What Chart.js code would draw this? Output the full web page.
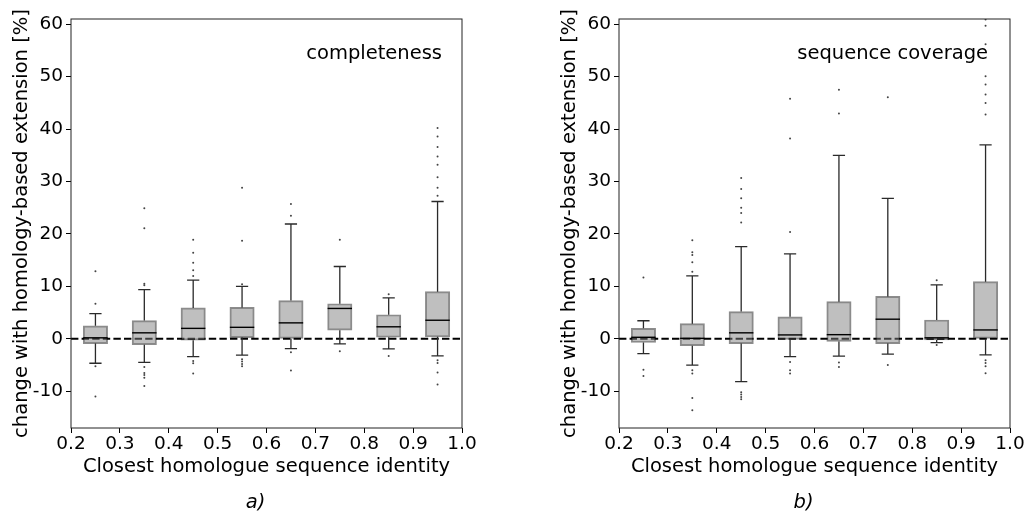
<!DOCTYPE html>
<html>
<head>
<meta charset="utf-8">
<script src="https://cdn.jsdelivr.net/npm/chart.js@4.4.1/dist/chart.umd.min.js"></script>
<style>
  html, body { margin: 0; padding: 0; background: #fff; }
  #wrap { position: relative; width: 1027px; height: 515px; }
  .panel { position: absolute; top: 0; height: 515px; }
</style>
</head>
<body>
<div id="wrap">
  <div class="panel" style="left:0;width:513px"><canvas id="chartA" width="513" height="515"></canvas></div>
  <div class="panel" style="left:548px;width:479px"><canvas id="chartB" width="479" height="515"></canvas></div>
</div>
<script>
/* -------- Data -------- */
const identity = [0.25, 0.35, 0.45, 0.55, 0.65, 0.75, 0.85, 0.95];
const xTicks = [0.2, 0.3, 0.4, 0.5, 0.6, 0.7, 0.8, 0.9, 1.0];
const yTicks = [-10, 0, 10, 20, 30, 40, 50, 60];

// a) completeness
const compQ1  = [-0.9, -1.1, -0.25, 0.25, 0.0, 1.65, 0.3, 0.4];
const compMed = [0.2, 1.15, 2.0, 2.2, 3.05, 5.8, 2.3, 3.55];
const compQ3  = [2.5, 3.5, 5.9, 6.0, 7.3, 6.7, 4.6, 9.0];
const compLo  = [-4.65, -4.5, -3.4, -3.1, -1.85, -0.95, -1.9, -3.25];
const compHi  = [4.8, 9.4, 11.2, 10.0, 21.9, 13.8, 7.8, 26.2];
const compOut = [
    [12.9, 6.7, -5.2, -11.0],
    [24.9, 21.1, 10.5, 10.2, -5.35, -6.5, -6.9, -7.4, -9.0],
    [18.9, 16.4, 14.5, 13.1, 12.0, -4.2, -4.65, -6.6],
    [28.8, 18.7, 10.4, -3.9, -4.3, -4.8, -5.2],
    [25.7, 23.5, -2.55, -6.05],
    [18.9, -2.35],
    [8.5, -3.25],
    [40.2, 38.6, 36.6, 34.8, 33.2, 30.8, 28.8, 27.3, -4.1, -4.6, -6.4, -8.7]
];

// b) sequence coverage
const covQ1  = [-0.7, -1.3, -0.9, -0.1, -0.5, -0.9, -0.2, 0.0];
const covMed = [0.3, 0.1, 1.15, 0.75, 0.8, 3.75, 0.2, 1.7];
const covQ3  = [2.0, 2.9, 5.2, 4.2, 7.1, 8.1, 3.6, 10.9];
const covLo  = [-2.8, -5.0, -8.15, -3.4, -3.3, -2.9, -0.7, -3.05];
const covHi  = [3.45, 12.0, 17.6, 16.2, 35.0, 26.8, 10.3, 37.0];
const covOut = [
    [11.7, -5.9, -7.1],
    [18.8, 16.5, 16.0, 14.6, 12.8, -6.0, -6.6, -11.3, -13.6],
    [30.7, 28.6, 26.8, 25.0, 24.0, 22.2, -10.2, -10.6, -11.1, -11.5],
    [45.8, 38.2, 20.4, -4.4, -6.0, -6.6],
    [47.5, 43.0, -4.5, -5.35],
    [46.1, -5.0],
    [11.2, -1.15],
    [60.9, 59.7, 56.2, 50.1, 48.5, 46.6, 45.0, 42.8, -4.1, -4.6, -5.2, -6.55]
];

/* -------- Style -------- */
const FONT = 'DejaVu Sans';
const TICK_SIZE = 18.5;
const LABEL_SIZE = 19.5;
const BOX_HALF = 0.025;   // half box width, data units
const CAP_HALF = 0.0125;  // half whisker cap width, data units

/* -------- Box plot plugin (whiskers, medians, zero line, frame, texts) -------- */
function makeBoxPlugin(stats) {
    return {
        id: 'boxplot',
        beforeDatasetsDraw(chart) {
            const { ctx, chartArea, scales: { x, y } } = chart;
            ctx.save();
            // dashed zero line
            const y0 = y.getPixelForValue(0);
            ctx.strokeStyle = '#000';
            ctx.lineWidth = 2;
            ctx.setLineDash([7.4, 3.2]);
            ctx.beginPath();
            ctx.moveTo(chartArea.left, y0);
            ctx.lineTo(chartArea.right, y0);
            ctx.stroke();

            // whiskers and caps
            ctx.setLineDash([]);
            ctx.strokeStyle = '#2a2a2a';
            ctx.lineWidth = 1.3;
            identity.forEach((xv, i) => {
                const px = x.getPixelForValue(xv);
                const c0 = x.getPixelForValue(xv - CAP_HALF);
                const c1 = x.getPixelForValue(xv + CAP_HALF);
                const segs = [[stats.q3[i], stats.hi[i]], [stats.q1[i], stats.lo[i]]];
                segs.forEach(([a, b]) => {
                    const pa = y.getPixelForValue(a);
                    const pb = y.getPixelForValue(b);
                    ctx.beginPath();
                    ctx.moveTo(px, pa);
                    ctx.lineTo(px, pb);
                    ctx.moveTo(c0, pb);
                    ctx.lineTo(c1, pb);
                    ctx.stroke();
                });
            });
            ctx.restore();
        },
        afterDatasetsDraw(chart) {
            const { ctx, scales: { x, y } } = chart;
            ctx.save();
            ctx.strokeStyle = '#000';
            ctx.lineWidth = 1.4;
            identity.forEach((xv, i) => {
                const py = y.getPixelForValue(stats.med[i]);
                ctx.beginPath();
                ctx.moveTo(x.getPixelForValue(xv - BOX_HALF), py);
                ctx.lineTo(x.getPixelForValue(xv + BOX_HALF), py);
                ctx.stroke();
            });
            ctx.restore();
        },
        afterDraw(chart) {
            const { ctx, chartArea } = chart;
            ctx.save();
            ctx.strokeStyle = '#222';
            ctx.lineWidth = 1;
            ctx.strokeRect(chartArea.left, chartArea.top,
                chartArea.right - chartArea.left, chartArea.bottom - chartArea.top);

            ctx.fillStyle = '#000';
            ctx.font = LABEL_SIZE + 'px "' + FONT + '"';
            ctx.textAlign = 'right';
            ctx.textBaseline = 'middle';
            ctx.fillText(stats.label, chartArea.right - stats.labelInset, chartArea.top + 35);

            ctx.font = 'italic ' + LABEL_SIZE + 'px "' + FONT + '"';
            ctx.textAlign = 'center';
            ctx.fillText(stats.letter, (chartArea.left + chartArea.right) / 2 - 11, 503);
            ctx.restore();
        }
    };
}

function makeChart(canvasId, stats, padRight) {
    const outliers = [];
    identity.forEach((xv, i) => stats.out[i].forEach(v => outliers.push({ x: xv, y: v })));

    return new Chart(document.getElementById(canvasId), {
        type: 'bar',
        data: {
            datasets: [{
                type: 'bar',
                data: identity.map((xv, i) => ({ x: xv, y: [stats.q1[i], stats.q3[i]] })),
                backgroundColor: 'rgba(128,128,128,0.5)',
                borderColor: 'rgba(0,0,0,0.45)',
                borderWidth: 1.3,
                borderSkipped: false,
                barThickness: 24.4
            }, {
                type: 'scatter',
                data: outliers,
                pointRadius: 1,
                pointBorderWidth: 0,
                pointBackgroundColor: '#444'
            }]
        },
        options: {
            responsive: false,
            animation: false,
            events: [],
            layout: { padding: { top: 19, right: padRight, bottom: 35, left: 0 } },
            plugins: { legend: { display: false }, tooltip: { enabled: false }, title: { display: false } },
            scales: {
                x: {
                    type: 'linear',
                    min: 0.2,
                    max: 1.0,
                    offset: false,
                    afterBuildTicks: s => { s.ticks = xTicks.map(v => ({ value: v })); },
                    afterFit: s => { s.height = 52; },
                    grid: { drawOnChartArea: false, drawTicks: true, tickLength: 5, tickColor: '#000', offset: false },
                    border: { display: false },
                    ticks: {
                        autoSkip: false,
                        maxRotation: 0,
                        padding: 0,
                        color: '#000',
                        font: { family: FONT, size: TICK_SIZE },
                        callback: v => Number(v).toFixed(1)
                    },
                    title: {
                        display: true,
                        text: 'Closest homologue sequence identity',
                        color: '#000',
                        font: { family: FONT, size: LABEL_SIZE },
                        padding: { top: 0, bottom: 1 }
                    }
                },
                y: {
                    min: -17,
                    max: 61,
                    afterBuildTicks: s => { s.ticks = yTicks.map(v => ({ value: v })); },
                    afterFit: s => { s.width = 71; },
                    grid: { drawOnChartArea: false, drawTicks: true, tickLength: 5, tickColor: '#000' },
                    border: { display: false },
                    ticks: {
                        color: '#000',
                        padding: 3,
                        font: { family: FONT, size: TICK_SIZE },
                        callback: v => String(v)
                    },
                    title: {
                        display: true,
                        text: 'change with homology-based extension [%]',
                        color: '#000',
                        font: { family: FONT, size: LABEL_SIZE },
                        padding: { top: 10, bottom: 0 }
                    }
                }
            }
        },
        plugins: [makeBoxPlugin(stats)]
    });
}

makeChart('chartA', {
    q1: compQ1, med: compMed, q3: compQ3, lo: compLo, hi: compHi, out: compOut,
    label: 'completeness', labelInset: 20, letter: 'a)'
}, 51);

makeChart('chartB', {
    q1: covQ1, med: covMed, q3: covQ3, lo: covLo, hi: covHi, out: covOut,
    label: 'sequence coverage', labelInset: 22, letter: 'b)'
}, 17);
</script>
</body>
</html>
